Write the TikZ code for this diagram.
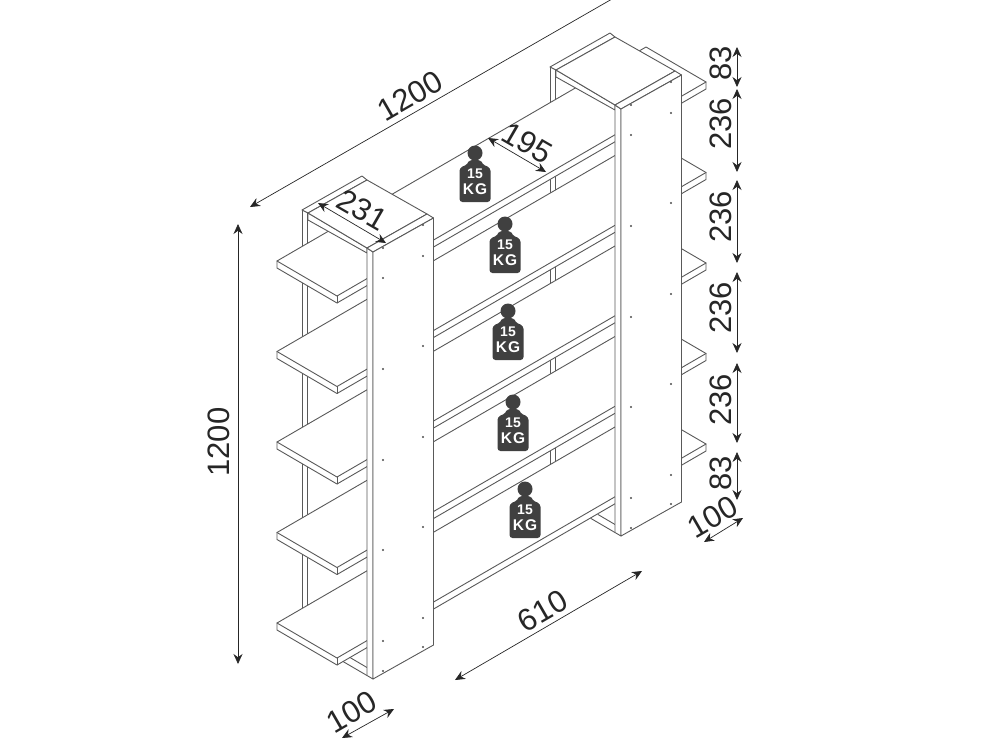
\documentclass[tikz,border=0pt]{standalone}
\usepackage{fontspec}
\setmainfont{Liberation Sans}
\usetikzlibrary{arrows.meta}
\definecolor{weightgray}{HTML}{404040}
\tikzset{
	board/.style={draw=black!65, fill=white, line width=0.9pt, line join=round},
	edge/.style={draw=black!65, line width=0.9pt},
	dim/.style={draw=black!85, line width=0.7pt, {Stealth[length=10pt,width=9pt]}-{Stealth[length=10pt,width=9pt]}},
	dimopen/.style={draw=black!85, line width=0.7pt, {Stealth[length=10pt,width=9pt]}-},
	dimlabel/.style={font=\fontsize{31}{31}\selectfont, text=black!85, inner sep=0pt},
}
\begin{document}
\begin{tikzpicture}[x=1pt, y=-1pt, line cap=round]
	\useasboundingbox (0, 0) rectangle (984, 739);
	% Back posts
	\foreach \dx/\dy in {0/0, 248/-143} {
		\draw [edge] (302 + \dx, 210 + \dy) -- (302 + \dx, 620 + \dy);
		\draw [edge] (307.5 + \dx, 213 + \dy) -- (307.5 + \dx, 620 + \dy);
	}
	% Shelves
	\foreach \a in {0, ..., 4} {
		\begin{scope}[shift={(0, 90.5 * \a)}]
			\draw [board] (277, 261) -- (646, 47) -- (706, 82) -- (706, 89) -- (337, 303) -- (277, 268) -- cycle;
			\draw [edge] (277, 261) -- (337, 296) -- (706, 82);
			\draw [edge] (337, 296) -- (337, 303);
		\end{scope}
	}
	% Side units
	\foreach \dx/\dy in {0/0, 248/-143} {
		\begin{scope}[shift={(\dx, \dy)}]
			% Bottom rail
			\draw [edge] (343, 661.5) -- (367, 675.5);
			\draw [edge] (350, 657.5) -- (367, 667.5);
			% Top
			\draw [board] (302, 210) -- (362, 176) -- (367, 180) -- (308, 213) -- cycle;
			\draw [board] (308, 213) -- (367, 248) -- (367, 253) -- (308, 220) -- cycle;
			\draw [board] (308, 213) -- (367, 180) -- (427, 214) -- (367, 248) -- cycle;
			% Side and front
			\draw [board] (367, 248) -- (373, 252) -- (373, 679) -- (367, 675.5) -- cycle;
			\draw [board] (367, 248) -- (427, 214) -- (433.5, 218) -- (373, 252) -- cycle;
			\draw [board] (373, 252) -- (433.5, 218) -- (433.5, 645) -- (373, 679) -- cycle;
			% Screw holes
			\foreach \y in {248, 278, 369, 460, 550, 641, 671}
				\fill [black!70] (383, \y) circle (1.1pt);
			\foreach \y in {225, 256, 346, 437, 527, 618, 647}
				\fill [black!70] (423, \y) circle (1.1pt);
		\end{scope}
	}
	% Weights
	\foreach \xw/\yw [count=\x] in {475/153, 505/224, 508/311, 513/402, 525/489} {
		\begin{scope}[shift={(\xw, \yw)}]
			\fill [weightgray] (0, 0) circle (7.5);
			\fill [weightgray, rounded corners=3pt] (-6, 7) -- (6, 7) -- (7, 11) -- (15.5, 15) -- (15.5, 49) -- (-15.5, 49) -- (-15.5, 15) -- (-7, 11) -- cycle;
			\node [text=white, inner sep=0pt, font=\bfseries\fontsize{14}{14}\selectfont] (load-num-\x) at (0, 21) {15};
			\node [text=white, inner sep=0pt, font=\bfseries\fontsize{15.5}{15.5}\selectfont] (load-unit-\x) at (0, 36) {K\kern1.2pt G};
		\end{scope}
	}
	% Dimension ends
	\coordinate (width-a) at (250, 207);
	\coordinate (width-b) at (612, -1);
	\coordinate (depth-a) at (318, 203);
	\coordinate (depth-b) at (386, 243);
	\coordinate (inner-a) at (488, 138);
	\coordinate (inner-b) at (546, 172);
	\coordinate (gap-a) at (455, 680);
	\coordinate (gap-b) at (642, 571);
	\coordinate (foot-a) at (342, 738);
	\coordinate (foot-b) at (394, 709);
	\coordinate (side-a) at (704, 542);
	\coordinate (side-b) at (743, 518);
	\coordinate (height-a) at (238, 224);
	\coordinate (height-b) at (238, 664);
	% Right column
	\foreach \a/\b [count=\x] in {47/87, 89/172, 180/263, 272/353, 363/443, 452/500} {
		\coordinate (step-a-\x) at (737, \a);
		\coordinate (step-b-\x) at (737, \b);
		\draw [dim] (step-a-\x) -- (step-b-\x);
	}
	\foreach \t/\y [count=\x] in {83/63, 236/124, 236/217, 236/308, 236/400, 83/473}
		\node [dimlabel, rotate=90] (step-label-\x) at (721, \y) {\t};
	% Dimension lines
	\draw [dimopen] (width-a) -- (width-b);
	\draw [dim] (depth-a) -- (depth-b);
	\draw [dim] (inner-a) -- (inner-b);
	\draw [dim] (gap-a) -- (gap-b);
	\draw [dim] (foot-a) -- (foot-b);
	\draw [dim] (side-a) -- (side-b);
	\draw [dim] (height-a) -- (height-b);
	% Dimension labels
	\node [dimlabel, rotate=30] (width-label) at (410, 96) {1200};
	\node [dimlabel, rotate=-30] (depth-label) at (362, 210) {231};
	\node [dimlabel, rotate=-30] (inner-label) at (527, 143) {195};
	\node [dimlabel, rotate=30] (gap-label) at (543, 611) {610};
	\node [dimlabel, rotate=30] (foot-label) at (352, 712) {100};
	\node [dimlabel, rotate=30] (side-label) at (713, 517) {100};
	\node [dimlabel, rotate=90] (height-label) at (219, 442) {1200};
\end{tikzpicture}
\end{document}
